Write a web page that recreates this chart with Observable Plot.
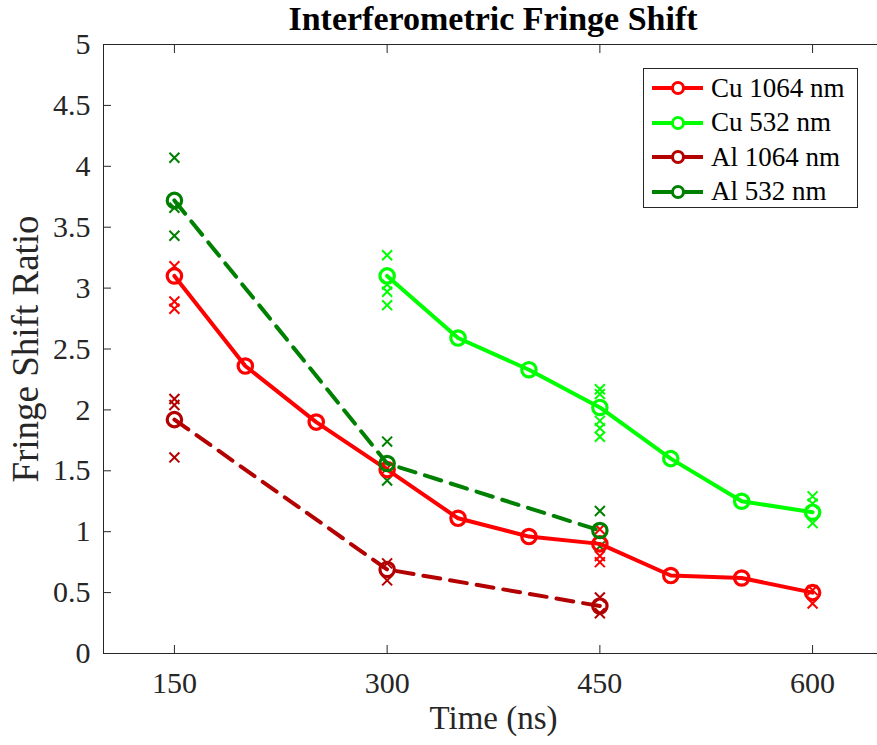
<!DOCTYPE html>
<html>
<head>
<meta charset="utf-8">
<script src="https://cdn.jsdelivr.net/npm/d3@7"></script>
<script src="https://cdn.jsdelivr.net/npm/@observablehq/plot@0.6"></script>
<style>
  body { margin: 0; background: #fff; }
  #wrap { position: relative; width: 877px; height: 745px; font-family: "Liberation Serif", "Times New Roman", serif; color: #262626; }
  #title { position: absolute; left: 103px; top: 0; width: 780px; text-align: center; font-weight: bold; font-size: 34px; line-height: normal; color: #000; white-space: nowrap; z-index: 2; background: transparent; }
  #chart { position: absolute; left: 0; top: 32px; z-index: 1; }
  #legend { position: absolute; left: 643px; top: 68px; width: 215px; height: 140px; border: 1px solid #262626; background: #fff; box-sizing: border-box; z-index: 3; }
  .row { position: absolute; left: 0; height: 34px; display: flex; align-items: center; font-size: 27px; color: #000; }
  .row svg { display: block; margin-left: 8px; margin-right: 8px; }
</style>
</head>
<body>
<div id="wrap">
  <div id="chart"></div>
  <div id="title">Interferometric Fringe Shift</div>
  <div id="legend"></div>
</div>
<script>
// ---- data ----
const seriesNames = ["Cu 1064 nm", "Cu 532 nm", "Al 1064 nm", "Al 532 nm"];
const seriesColors = ["#ff0000", "#00ff00", "#b30000", "#008000"];
const seriesDashed = [false, false, true, true];

const cu1064Times = [150, 200, 250, 300, 350, 400, 450, 500, 550, 600];
const cu1064Ratio = [3.10, 2.36, 1.90, 1.51, 1.11, 0.96, 0.90, 0.64, 0.62, 0.50];
const cu532Times = [300, 350, 400, 450, 500, 550, 600];
const cu532Ratio = [3.10, 2.59, 2.33, 2.02, 1.60, 1.25, 1.16];
const al1064Times = [150, 300, 450];
const al1064Ratio = [1.92, 0.69, 0.39];
const al532Times = [150, 300, 450];
const al532Ratio = [3.72, 1.56, 1.01];

// individual shots (x markers)
const cu1064RawTimes = [150, 150, 150, 300, 450, 450, 450, 600, 600];
const cu1064RawRatio = [3.18, 2.89, 2.83, 1.52, 1.02, 0.80, 0.75, 0.52, 0.41];
const cu532RawTimes = [300, 300, 300, 300, 450, 450, 450, 450, 450, 600, 600, 600];
const cu532RawRatio = [3.27, 3.03, 2.97, 2.86, 2.17, 2.13, 1.91, 1.85, 1.78, 1.29, 1.23, 1.07];
const al1064RawTimes = [150, 150, 150, 300, 300, 450, 450];
const al1064RawRatio = [2.09, 2.04, 1.61, 0.74, 0.60, 0.46, 0.33];
const al532RawTimes = [150, 150, 150, 300, 300, 450, 450];
const al532RawRatio = [4.07, 3.66, 3.43, 1.74, 1.42, 1.17, 0.88];

const xTicks = [150, 300, 450, 600];
const yTicks = [0, 0.5, 1, 1.5, 2, 2.5, 3, 3.5, 4, 4.5, 5];
const xLabel = "Time (ns)";
const yLabel = "Fringe Shift Ratio";

// ---- build tables ----
const meanT = [cu1064Times, cu532Times, al1064Times, al532Times];
const meanV = [cu1064Ratio, cu532Ratio, al1064Ratio, al532Ratio];
const rawT = [cu1064RawTimes, cu532RawTimes, al1064RawTimes, al532RawTimes];
const rawV = [cu1064RawRatio, cu532RawRatio, al1064RawRatio, al532RawRatio];

const series = seriesNames.map((name, i) => ({
  name, color: seriesColors[i], dashed: seriesDashed[i],
  mean: meanT[i].map((t, j) => ({t, v: meanV[i][j], name})),
  raw: rawT[i].map((t, j) => ({t, v: rawV[i][j], name}))
}));

const axisColor = "#262626";
const marks = [];
marks.push(Plot.frame({stroke: axisColor, strokeWidth: 1}));
// raw markers
for (const s of series) {
  marks.push(Plot.dot(s.raw, {x: "t", y: "v", symbol: "times", r: 4.6, stroke: s.color, strokeWidth: 2}));
}
// mean lines + circles
for (const s of series) {
  marks.push(Plot.line(s.mean, {x: "t", y: "v", stroke: s.color, strokeWidth: 4, strokeDasharray: s.dashed ? "17,10" : null}));
  marks.push(Plot.dot(s.mean, {x: "t", y: "v", r: 7.2, stroke: s.color, strokeWidth: 3.2, fill: "none"}));
}
// axes
marks.push(Plot.axisX({ticks: xTicks, tickSize: -8, tickPadding: 26, tickFormat: d => String(d), label: null, stroke: axisColor, fill: axisColor}));
marks.push(Plot.axisX({anchor: "top", ticks: xTicks, tickSize: -8, tickFormat: () => "", label: null, stroke: axisColor}));
marks.push(Plot.axisY({ticks: yTicks, tickSize: -8, tickPadding: 21, tickFormat: d => String(d), label: null, stroke: axisColor, fill: axisColor}));
marks.push(Plot.text([xLabel], {frameAnchor: "bottom", dy: 52, lineAnchor: "top", textAnchor: "middle", fontSize: 33, fill: axisColor}));
marks.push(Plot.text([yLabel], {frameAnchor: "left", rotate: -90, dx: -92, lineAnchor: "top", textAnchor: "middle", fontSize: 37, fill: axisColor}));

const chart = Plot.plot({
  width: 877,
  height: 713,
  marginTop: 12,
  marginBottom: 92,
  marginLeft: 103,
  marginRight: -6,
  x: {domain: [100, 650]},
  y: {domain: [0, 5]},
  style: {fontFamily: "'Liberation Serif', 'Times New Roman', serif", fontSize: "30px", color: axisColor, background: "transparent", overflow: "visible"},
  marks
});
document.getElementById("chart").appendChild(chart);

// ---- legend ----
const legend = document.getElementById("legend");
series.forEach((s, i) => {
  const row = document.createElement("div");
  row.className = "row";
  row.style.top = (2 + i * 34.5) + "px";
  row.innerHTML = `<svg width="51" height="20"><line x1="0" y1="10" x2="51" y2="10" stroke="${s.color}" stroke-width="4"/><circle cx="26" cy="10" r="5.5" fill="#fff" stroke="${s.color}" stroke-width="3"/></svg><span>${s.name}</span>`;
  legend.appendChild(row);
});
</script>
</body>
</html>
